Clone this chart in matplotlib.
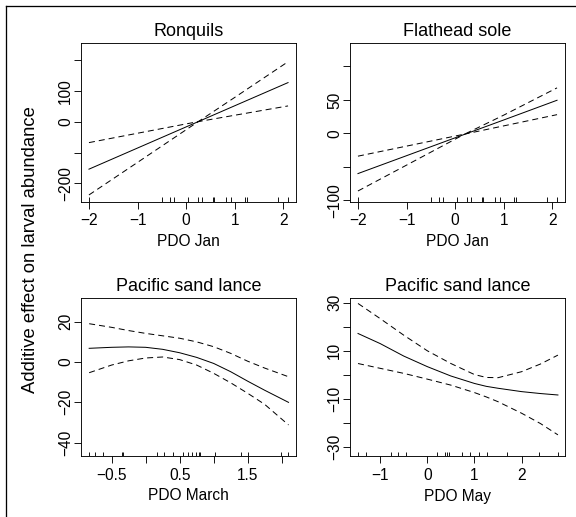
import matplotlib
matplotlib.use("Agg")
import matplotlib.pyplot as plt
from matplotlib.lines import Line2D

plt.rcParams['font.family'] = ['Liberation Sans', 'DejaVu Sans']

M = "\u2212"

# ---- data ----
titles = ["Ronquils", "Flathead sole", "Pacific sand lance", "Pacific sand lance"]
xlabels = ["PDO Jan", "PDO Jan", "PDO March", "PDO May"]
ylabel = "Additive effect on larval abundance"

ronq_x = [-2.0, -1.0, 0.0, 0.25, 1.0, 2.1]
ronq_fit = [-154, -85.2, -16.4, 0.8, 52.4, 128]
ronq_up = [-67.5, -37, -6.6, 0.8, 79.5, 196]
ronq_lo = [-238, -132, -25.7, 0.8, 21.6, 52]

flat_x = [-2.0, -1.0, 0.0, 0.2, 1.0, 2.1]
flat_fit = [-60, -33.3, -6.6, -1.3, 20.0, 49.5]
flat_up = [-34, -19, -4, -1, 27.2, 68]
flat_lo = [-86, -47.4, -8.7, -1, 11.2, 28]

mar_x = [-0.83, -0.5, -0.25, 0.0, 0.25, 0.5, 0.75, 1.0, 1.25, 1.5, 1.75, 2.1]
mar_fit = [6.8, 7.3, 7.5, 7.3, 6.3, 4.6, 2.3, -0.7, -4.8, -9.5, -14.0, -20.0]
mar_up = [19.0, 17.2, 15.6, 14.2, 13.0, 11.8, 10.0, 7.6, 4.3, 0.4, -3.0, -7.3]
mar_lo = [-5.3, -1.5, 0.6, 2.0, 2.5, 1.2, -1.5, -5.6, -10.3, -15.5, -21.0, -31.2]

may_x = [-1.47, -1.0, -0.5, 0.0, 0.5, 1.0, 1.25, 1.5, 2.0, 2.4, 2.77]
may_fit = [17.1, 12.9, 7.7, 3.3, -0.6, -3.7, -4.9, -5.7, -7.1, -7.9, -8.5]
may_up = [29.6, 23.3, 16.4, 9.9, 4.6, 0.0, -1.2, -1.3, 1.2, 4.4, 8.1]
may_lo = [4.6, 2.6, 0.5, -1.9, -4.4, -7.5, -9.3, -11.3, -16.1, -20.4, -25.1]

rug_jan = [-2.0, -0.49, -0.34, -0.25, 0.04, 0.24, 0.33, 0.55, 0.57, 0.82, 0.93, 1.21, 1.25, 1.89, 2.1]
rug_mar = [-0.83, -0.74, -0.62, -0.35, -0.33, 0.17, 0.27, 0.40, 0.55, 0.62, 0.68, 0.74, 0.78, 0.80, 1.02, 1.40, 1.50, 1.99, 2.09]
rug_may = [-1.47, -1.30, -0.77, -0.62, -0.45, 0.20, 0.37, 0.41, 0.46, 0.73, 0.90, 1.10, 1.26, 1.68, 2.37, 2.77]

xt_jan = [-2, -1, 0, 1, 2]
xtl_jan = [M + "2", M + "1", "0", "1", "2"]
xt_mar = [-0.5, 0, 0.5, 1.0, 1.5, 2.0]
xtl_mar = [M + "0.5", "", "0.5", "", "1.5", ""]
xt_may = [-1, 0, 1, 2]
xtl_may = [M + "1", "0", "1", "2"]

yt_ronq = [-200, -100, 0, 100, 200]
ytl_ronq = [M + "200", "", "0", "100", ""]
yt_flat = [-100, -50, 0, 50, 100]
ytl_flat = [M + "100", "", "0", "50", ""]
yt_mar = [-40, -20, 0, 20]
ytl_mar = [M + "40", M + "20", "0", "20"]
yt_may = [-30, -20, -10, 0, 10, 20, 30]
ytl_may = [M + "30", "", M + "10", "", "10", "", "30"]

panels = [
    (ronq_x, ronq_fit, ronq_up, ronq_lo, rug_jan, xt_jan, xtl_jan, yt_ronq, ytl_ronq, (-2.164, 2.264), (-260, 257)),
    (flat_x, flat_fit, flat_up, flat_lo, rug_jan, xt_jan, xtl_jan, yt_flat, ytl_flat, (-2.164, 2.264), (-102, 135)),
    (mar_x, mar_fit, mar_up, mar_lo, rug_mar, xt_mar, xtl_mar, yt_mar, ytl_mar, (-0.95, 2.21), (-46.6, 31.9)),
    (may_x, may_fit, may_up, may_lo, rug_may, xt_may, xtl_may, yt_may, ytl_may, (-1.64, 2.92), (-33.9, 32.0)),
]

W, H = 576, 517
fig = plt.figure(figsize=(W / 72, H / 72), dpi=72)

boxes = [(81, 43, 296, 201.7), (350, 43, 565, 201.7),
         (81, 297.7, 296, 456), (350, 297.7, 565, 456)]

tick_fs = 15.5
for i, (p, b) in enumerate(zip(panels, boxes)):
    x, fit, up, lo, rug, xt, xtl, yt, ytl, xl, yl = p
    l, t, r, bt = b
    ax = fig.add_axes([l / W, 1 - bt / H, (r - l) / W, (bt - t) / H])
    ax.plot(x, fit, color='black', lw=1.0)
    ax.plot(x, up, color='black', lw=1.0, ls=(0, (6, 4)))
    ax.plot(x, lo, color='black', lw=1.0, ls=(0, (6, 4)))
    ax.vlines(rug, 0, 0.028, transform=ax.get_xaxis_transform(), color='black', lw=0.9)
    ax.set_xlim(*xl)
    ax.set_ylim(*yl)
    ax.set_xticks(xt)
    ax.set_xticklabels(xtl)
    ax.set_yticks(yt)
    ax.set_yticklabels(ytl, rotation=90, va='center')
    ax.tick_params(axis='both', direction='out', length=7, width=0.9,
                   labelsize=tick_fs, color='black')
    ax.tick_params(axis='x', pad=4.5)
    ax.tick_params(axis='y', pad=1)
    for s in ax.spines.values():
        s.set_linewidth(0.9)
    ax.set_title(titles[i], fontsize=18, pad=7)
    ax.set_xlabel(xlabels[i], fontsize=15.5, labelpad=6)

fig.text(31 / W, 1 - 249.5 / H, ylabel, rotation=90, ha='center', va='center', fontsize=18.5)

# outer frame (top and left edges)
fig.add_artist(Line2D([6 / W, 1], [1 - 6 / H, 1 - 6 / H], color='black', lw=1.3, transform=fig.transFigure))
fig.add_artist(Line2D([6 / W, 6 / W], [0, 1 - 6 / H], color='black', lw=1.3, transform=fig.transFigure))

fig.savefig("out.png", dpi=72)
